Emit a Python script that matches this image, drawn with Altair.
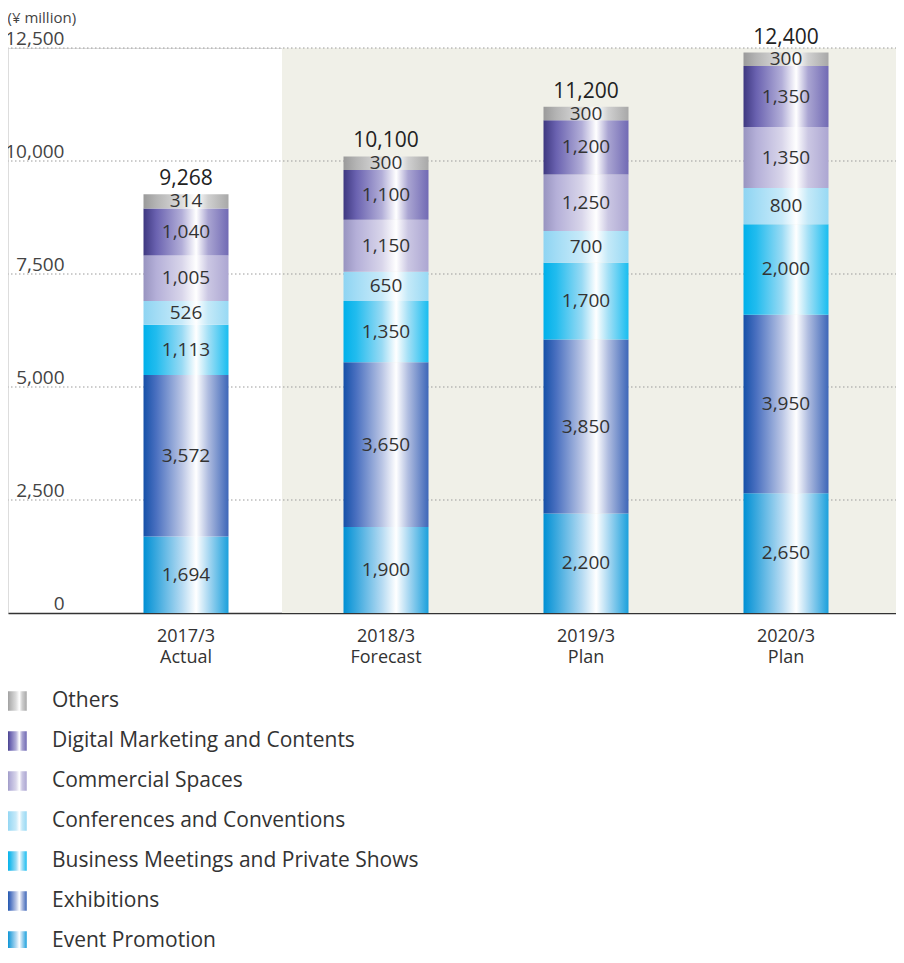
import altair as alt
import pandas as pd

# ---------------- data ----------------
periods = ["2017/3", "2018/3", "2019/3", "2020/3"]
statuses = ["Actual", "Forecast", "Plan", "Plan"]

segments = [
    "Event Promotion",
    "Exhibitions",
    "Business Meetings and Private Shows",
    "Conferences and Conventions",
    "Commercial Spaces",
    "Digital Marketing and Contents",
    "Others",
]
event_promotion = [1694, 1900, 2200, 2650]
exhibitions = [3572, 3650, 3850, 3950]
business_meetings = [1113, 1350, 1700, 2000]
conferences = [526, 650, 700, 800]
commercial = [1005, 1150, 1250, 1350]
digital = [1040, 1100, 1200, 1350]
others = [314, 300, 300, 300]
totals = [9268, 10100, 11200, 12400]
y_ticks = [0, 2500, 5000, 7500, 10000, 12500]

series = [event_promotion, exhibitions, business_meetings, conferences,
          commercial, digital, others]

# ---------------- styles ----------------
def grad(c0, c1, c2, c3, c4):
    return {
        "gradient": "linear", "x1": 0, "x2": 1, "y1": 0, "y2": 0,
        "stops": [
            {"offset": 0.0, "color": c0},
            {"offset": 0.15, "color": c1},
            {"offset": 0.45, "color": c2},
            {"offset": 0.62, "color": "#ffffff"},
            {"offset": 0.76, "color": c3},
            {"offset": 1.0, "color": c4},
        ],
    }

gradients = {
    "Event Promotion": grad("#0090d4", "#3aa8de", "#b4daf2", "#acd9f2", "#1aa0dc"),
    "Exhibitions": grad("#1550a8", "#4a70c0", "#b8c4e4", "#b0bde0", "#3d66b8"),
    "Business Meetings and Private Shows": grad("#00b0ea", "#22bcee", "#98daf4", "#a4e0f6", "#18bdf0"),
    "Conferences and Conventions": grad("#8ed4f2", "#a2dcf5", "#c8eaf9", "#c4e9f8", "#98d9f4"),
    "Commercial Spaces": grad("#9894c0", "#b4afd8", "#d8d5ea", "#cbc7e3", "#aca6d2"),
    "Digital Marketing and Contents": grad("#3e3880", "#6a62b0", "#b2aed8", "#aaa5d2", "#716ab4"),
    "Others": grad("#9a9a9a", "#b4b4b4", "#dcdcdc", "#d0d0d0", "#a8a8a8"),
}

FONT = "Open Sans"
TEXT = "#333333"
W = 888
H = 565

# ---------------- tables ----------------
rows = []
for i, p in enumerate(periods):
    base = 0
    for s, vals in zip(segments, series):
        v = vals[i]
        rows.append({"period": p, "segment": s, "value": v,
                     "start": base, "end": base + v, "mid": base + v / 2})
        base += v
df = pd.DataFrame(rows)
tot_df = pd.DataFrame({"period": periods, "total": totals})
grid_df = pd.DataFrame({"v": [t for t in y_ticks if t > 0]})
bg_df = pd.DataFrame({"top": [max(y_ticks)], "bottom": [0]})
legend_df = pd.DataFrame({"segment": segments[::-1]})

# ---------------- scales / axes ----------------
yscale = alt.Scale(domain=[0, max(y_ticks)], nice=False)
yaxis = alt.Axis(
    values=y_ticks, labelExpr="format(datum.value, ',')", grid=False, domain=False,
    ticks=False, tickSize=0,
    labelAlign="right", labelPadding=-56, labelBaseline="alphabetic", labelOffset=-4,
    labelFontSize=19, labelColor="#444444", labelFont=FONT, labelOverlap=False,
    title="(¥ million)", titleAngle=0, titleAlign="left", titleBaseline="middle",
    titleX=-1, titleY=-31, titleFontSize=15, titleFontWeight="normal",
    titleColor="#444444", titleFont=FONT,
)
xscale = alt.Scale(domain=periods, paddingInner=0.575, paddingOuter=0.5075, align=0.6675)
label_expr = (
    "[datum.label, " + str(statuses) + "[indexof(" + str(periods) + ", datum.label)]]"
)
xaxis = alt.Axis(
    title=None, ticks=False, domainColor="#333333", domainWidth=1.5,
    labelAngle=0, labelFontSize=18, labelColor=TEXT, labelFont=FONT,
    labelPadding=14, labelBaseline="top", labelLineHeight=21, labelExpr=label_expr,
)

def Y(field):
    return alt.Y(field, scale=yscale, axis=yaxis)

X = alt.X("period:N", scale=xscale, axis=xaxis, sort=periods)

# ---------------- layers ----------------
bg = alt.Chart(bg_df).mark_rect(color="#f0f0e8").encode(
    x=alt.value(274), x2=alt.value(W), y=Y("top:Q"), y2="bottom:Q"
)
grid = alt.Chart(grid_df).mark_rule(color="#9a9a9a", strokeDash=[1.5, 2.5], strokeWidth=1).encode(
    x=alt.value(-1), x2=alt.value(W), y=Y("v:Q")
)

bar_layers = []
for s in segments:
    bar_layers.append(
        alt.Chart(df).transform_filter(alt.datum.segment == s)
        .mark_bar(fill=gradients[s], opacity=1)
        .encode(x=X, y=Y("start:Q"), y2="end:Q")
    )

seg_labels = alt.Chart(df).mark_text(
    font=FONT, fontSize=19, color=TEXT, baseline="middle", align="center"
).encode(x=X, y=Y("mid:Q"), text=alt.Text("value:Q", format=","))

tot_labels = alt.Chart(tot_df).mark_text(
    font=FONT, fontSize=21, fontWeight=500, color="#222222", baseline="alphabetic",
    align="center", dy=-9
).encode(x=X, y=Y("total:Q"), text=alt.Text("total:Q", format=","))

main = alt.layer(bg, grid, *bar_layers, seg_labels, tot_labels)

# ---------------- legend ----------------
ly = alt.Y("segment:N", sort=segments[::-1],
           scale=alt.Scale(type="point", domain=segments[::-1], range=[653, 893], padding=0),
           axis=None)
leg_layers = []
for s in segments:
    leg_layers.append(
        alt.Chart(legend_df).transform_filter(alt.datum.segment == s)
        .mark_square(fill=gradients[s], filled=True, opacity=1, size=380)
        .encode(x=alt.value(9), y=ly)
    )
leg_text = alt.Chart(legend_df).mark_text(
    font=FONT, fontSize=21, color=TEXT, align="left", baseline="middle"
).encode(x=alt.value(44), y=ly, text="segment:N")
legend = alt.layer(*leg_layers, leg_text)

chart = alt.layer(main, legend).resolve_scale(y="independent").properties(
    width=W, height=H,
    autosize=alt.AutoSizeParams(type="none"),
    padding={"left": 0, "top": 40, "right": 0, "bottom": 335},
    background="white",
).configure_view(stroke=None).configure(font=FONT)

chart.save("out.html", embed_options={"renderer": "svg", "actions": False})
